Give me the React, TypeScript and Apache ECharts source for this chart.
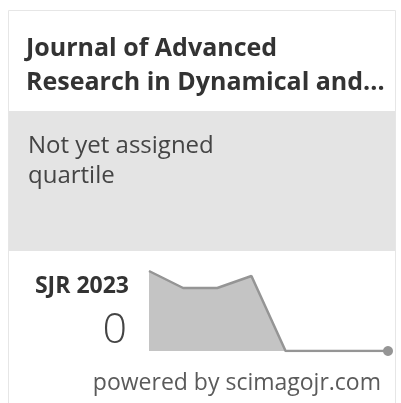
import React, { useEffect, useRef } from "react";
import * as echarts from "echarts";

const years = ["2016", "2017", "2018", "2019", "2020", "2021", "2022", "2023"];
const sjrValues = [0.8, 0.63, 0.63, 0.75, 0, 0, 0, 0];
const titleLines = ["Journal of Advanced", "Research in Dynamical and..."];
const quartileLines = ["Not yet assigned", "quartile"];
const sjrLabel = "SJR 2023";
const sjrCurrent = "0";
const footer = "powered by scimagojr.com";

const FONT = "'Open Sans', 'Noto Sans', sans-serif";
// convert a desired alphabetic baseline to the 'top' y used by ECharts text
const top = (baseline: number, size: number, lineHeight?: number) =>
  lineHeight ? baseline - lineHeight / 2 - 0.388 * size : baseline - 0.888 * size;

export default function App() {
  const ref = useRef<HTMLDivElement>(null);
  useEffect(() => {
    if (!ref.current) return;
    const chart = echarts.init(ref.current, undefined, { renderer: "svg" });
    const last = sjrValues.length - 1;
    chart.setOption({
      animation: false,
      grid: { left: 149, right: 13, top: 271, bottom: 52 },
      xAxis: { type: "category", data: years, boundaryGap: false, show: false },
      yAxis: { type: "value", min: 0, max: 0.8, show: false },
      series: [
        {
          type: "line",
          data: sjrValues,
          symbol: "circle",
          symbolSize: (_v: any, p: any) => (p.dataIndex === last ? 10 : 0),
          itemStyle: { color: "#959595" },
          lineStyle: { color: "#959595", width: 2.5 },
          areaStyle: { color: "#c4c4c4", opacity: 1 },
          silent: true,
        },
      ],
      graphic: [
        {
          type: "rect",
          z: -10,
          shape: { x: 8.5, y: 10.5, width: 387, height: 400 },
          style: { fill: "#fff", stroke: "#e6e6e6", lineWidth: 1 },
        },
        {
          type: "rect",
          z: -9,
          shape: { x: 9, y: 111, width: 386, height: 140 },
          style: { fill: "#e4e4e4" },
        },
        {
          type: "text",
          x: 26,
          y: top(56, 25, 33.5),
          style: {
            text: titleLines.join("\n"),
            font: `bold 25px ${FONT}`,
            lineHeight: 33.5,
            fill: "#333",
          },
        },
        {
          type: "text",
          x: 28,
          y: top(153, 24, 29.5),
          style: {
            text: quartileLines.join("\n"),
            font: `24px ${FONT}`,
            lineHeight: 29.5,
            fill: "#444",
          },
        },
        {
          type: "text",
          x: 129,
          y: top(293, 23),
          style: {
            text: sjrLabel,
            font: `bold 23px ${FONT}`,
            fill: "#333",
            textAlign: "right",
          },
        },
        {
          type: "text",
          x: 127,
          y: top(343, 43),
          style: {
            text: sjrCurrent,
            font: `300 43px ${FONT}`,
            fill: "#444",
            textAlign: "right",
          },
        },
        {
          type: "text",
          x: 381,
          y: top(390, 23),
          style: {
            text: footer,
            font: `23px ${FONT}`,
            fill: "#5a5a5a",
            textAlign: "right",
          },
        },
      ],
    });
    return () => chart.dispose();
  }, []);
  return (
    <div
      ref={ref}
      style={{ position: "fixed", left: 0, top: 0, width: 401, height: 403 }}
    />
  );
}
